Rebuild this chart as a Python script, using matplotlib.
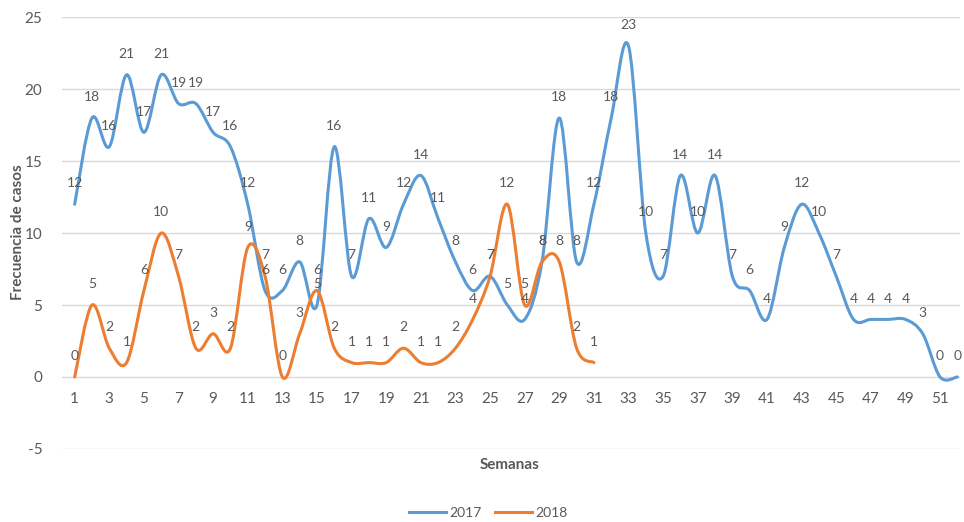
import matplotlib
matplotlib.use('Agg')
import matplotlib.pyplot as plt
from matplotlib.path import Path
from matplotlib.patches import PathPatch
from matplotlib.lines import Line2D
import numpy as np

plt.rcParams['font.family'] = ['Lato', 'DejaVu Sans']
plt.rcParams['axes.unicode_minus'] = False

weeks_2017 = list(range(1, 53))
cases_2017 = [12, 18, 16, 21, 17, 21, 19, 19, 17, 16, 12, 6, 6, 8, 5, 16, 7, 11, 9, 12,
              14, 11, 8, 6, 7, 5, 4, 8, 18, 8, 12, 18, 23, 10, 7, 14, 10, 14, 7, 6,
              4, 9, 12, 10, 7, 4, 4, 4, 4, 3, 0, 0]
weeks_2018 = list(range(1, 32))
cases_2018 = [0, 5, 2, 1, 6, 10, 7, 2, 3, 2, 9, 7, 0, 3, 6, 2, 1, 1, 1, 2,
              1, 1, 2, 4, 7, 12, 5, 8, 8, 2, 1]
x_ticks = list(range(1, 52, 2))
y_ticks = [-5, 0, 5, 10, 15, 20, 25]

blue = '#5B9BD5'
orange = '#ED7D31'
grey_txt = '#595959'


# smoothed line like Excel's "smooth line" (Catmull-Rom as cubic bezier)
def smooth_path(x, y):
    x = np.asarray(x, float)
    y = np.asarray(y, float)
    xp = np.concatenate([[x[0]], x, [x[-1]]])
    yp = np.concatenate([[y[0]], y, [y[-1]]])
    verts = [(x[0], y[0])]
    codes = [Path.MOVETO]
    for i in range(len(x) - 1):
        c1 = (x[i] + (xp[i + 2] - xp[i]) / 6, y[i] + (yp[i + 2] - yp[i]) / 6)
        c2 = (x[i + 1] - (xp[i + 3] - xp[i + 1]) / 6, y[i + 1] - (yp[i + 3] - yp[i + 1]) / 6)
        verts += [c1, c2, (x[i + 1], y[i + 1])]
        codes += [Path.CURVE4] * 3
    return Path(verts, codes)


fig = plt.figure(figsize=(9.64, 5.22), dpi=100)
ax = fig.add_axes([0.064, 0.140, 0.932, 0.827])

for wk, cs, col in [(weeks_2017, cases_2017, blue), (weeks_2018, cases_2018, orange)]:
    ax.add_patch(PathPatch(smooth_path(wk, cs), fill=False, edgecolor=col, lw=2.2,
                           capstyle='round', joinstyle='round', zorder=3))
    for xv, yv in zip(wk, cs):
        ax.annotate(str(yv), (xv, yv), xytext=(0, 15), textcoords='offset points',
                    ha='center', va='center', fontsize=10, color=grey_txt, zorder=4)

ax.set_xlim(0.25, 52.16)
ax.set_ylim(-5, 25)
ax.set_yticks(y_ticks)
ax.set_xticks(x_ticks)
ax.grid(axis='y', color='#D9D9D9', lw=1)
ax.set_axisbelow(True)
for s in ax.spines.values():
    s.set_visible(False)
ax.spines['bottom'].set_position(('data', 0))
ax.tick_params(length=0, labelsize=11, colors=grey_txt)
ax.tick_params(axis='x', pad=11)
ax.tick_params(axis='y', pad=14)

fig.text(0.529, 1 - 465 / 522, 'Semanas', ha='center', va='center',
         fontsize=11, fontweight='bold', color=grey_txt)
fig.text(0.019, 1 - 232 / 522, 'Frecuencia de casos', ha='center', va='center',
         rotation=90, fontsize=11, fontweight='bold', color=grey_txt)

handles = [Line2D([], [], color=blue, lw=2.2), Line2D([], [], color=orange, lw=2.2)]
fig.legend(handles, ['2017', '2018'], loc='center', bbox_to_anchor=(488 / 964, 1 - 513 / 522),
           ncol=2, frameon=False, fontsize=10, handlelength=2.7, handletextpad=0.2,
           columnspacing=1.0, labelcolor=grey_txt)

fig.savefig('out.png', dpi=100)
